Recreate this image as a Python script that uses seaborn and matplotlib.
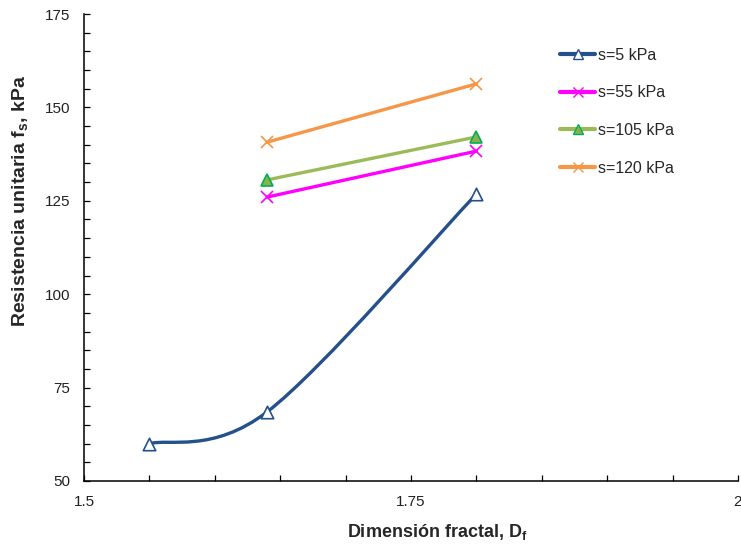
import matplotlib
matplotlib.use("Agg")
import matplotlib.pyplot as plt
import numpy as np
import pandas as pd
import seaborn as sns
from matplotlib.lines import Line2D
from matplotlib.path import Path
from matplotlib.patches import PathPatch

# datos
df_s5 = [1.55, 1.64, 1.80]
fs_s5 = [60.0, 68.5, 126.8]

df_pares = [1.64, 1.80]
fs_s55 = [126.0, 138.3]
fs_s105 = [130.6, 142.1]
fs_s120 = [140.7, 156.3]

etiquetas = ["s=5 kPa", "s=55 kPa", "s=105 kPa", "s=120 kPa"]
colores = ["#24508C", "#FF00FF", "#9BBB59", "#F79646"]

x_ticks = [1.5, 1.75, 2]
x_ticklabels = ["1.5", "1.75", "2"]
y_ticks = [50, 75, 100, 125, 150, 175]


def curva_suave(xs, ys):
    """Path bezier tipo 'linea suavizada' de Excel que pasa por los puntos"""
    p = np.column_stack([xs, ys]).astype(float)
    n = len(p)
    verts = [p[0]]
    codes = [Path.MOVETO]
    for i in range(n - 1):
        p_prev = p[i - 1] if i > 0 else p[i]
        p_next = p[i + 2] if i + 2 < n else p[i + 1]
        c1 = p[i] + (p[i + 1] - p_prev) / 6.0
        c2 = p[i + 1] - (p_next - p[i]) / 6.0
        verts += [c1, c2, p[i + 1]]
        codes += [Path.CURVE4] * 3
    return Path(verts, codes)


sns.set_style("ticks")
plt.rcParams['font.family'] = ['Liberation Sans', 'DejaVu Sans']
plt.rcParams['mathtext.fontset'] = 'custom'
plt.rcParams['mathtext.rm'] = 'Liberation Sans'
plt.rcParams['mathtext.bf'] = 'Liberation Sans:bold'

fig = plt.figure(figsize=(7.41, 5.48), dpi=100)
ax = fig.add_axes([84 / 741, 1 - 481 / 548, 654 / 741, 467 / 548])

lw = 2.4

# s=5 kPa: curva suavizada + marcadores triangulares huecos
ax.add_patch(PathPatch(curva_suave(df_s5, fs_s5), facecolor='none',
                       edgecolor=colores[0], lw=lw, capstyle='round', zorder=2))
sns.scatterplot(x=df_s5, y=fs_s5, ax=ax, marker='^', s=80, color='white',
                edgecolor=colores[0], linewidth=1.2, zorder=3)

datos = pd.DataFrame({
    "D": df_pares * 3,
    "fs": fs_s55 + fs_s105 + fs_s120,
    "serie": [etiquetas[1]] * 2 + [etiquetas[2]] * 2 + [etiquetas[3]] * 2,
})

sns.lineplot(data=datos[datos.serie == etiquetas[1]], x="D", y="fs", ax=ax,
             color=colores[1], lw=lw, marker='x', markersize=8,
             markeredgewidth=1.2, markeredgecolor=colores[1], zorder=2)
sns.lineplot(data=datos[datos.serie == etiquetas[2]], x="D", y="fs", ax=ax,
             color=colores[2], lw=lw, marker='^', markersize=8,
             markerfacecolor='#8DB04E', markeredgecolor='#00B050',
             markeredgewidth=1.2, zorder=2)
sns.lineplot(data=datos[datos.serie == etiquetas[3]], x="D", y="fs", ax=ax,
             color=colores[3], lw=lw, marker='x', markersize=8,
             markeredgewidth=1.2, markeredgecolor=colores[3], zorder=2)

ax.set_xlim(1.5, 2.0)
ax.set_ylim(50, 175)
ax.set_xticks(x_ticks)
ax.set_xticklabels(x_ticklabels)
ax.set_yticks(y_ticks)
ax.set_xticks(np.arange(1.5, 2.0001, 0.05), minor=True)
ax.set_yticks(np.arange(50, 175.001, 5), minor=True)
ax.tick_params(which='both', direction='in', length=4, width=0.9,
               color='black', labelsize=11, labelcolor='#222222', pad=10)

sns.despine(ax=ax)
for side in ['left', 'bottom']:
    ax.spines[side].set_color('black')
    ax.spines[side].set_linewidth(1.1)

ax.set_xlabel(r"Dimensión fractal, D$_\mathbf{f}$", fontsize=13,
              fontweight='bold')
ax.set_ylabel(r"Resistencia unitaria f$_\mathbf{s}$, kPa", fontsize=14,
              fontweight='bold')
ax.xaxis.set_label_coords(0.54, -0.088)
ax.yaxis.set_label_coords(-0.081, 0.60)

handles = [
    Line2D([], [], color=colores[0], lw=3, marker='^', markersize=7,
           markerfacecolor='white', markeredgecolor=colores[0]),
    Line2D([], [], color=colores[1], lw=3, marker='x', markersize=7,
           markeredgecolor=colores[1]),
    Line2D([], [], color=colores[2], lw=3, marker='^', markersize=7,
           markerfacecolor='#8DB04E', markeredgecolor='#00B050'),
    Line2D([], [], color=colores[3], lw=3, marker='x', markersize=7,
           markeredgecolor=colores[3]),
]
ax.legend(handles, etiquetas, loc='upper left', bbox_to_anchor=(0.728, 0.928),
          frameon=False, fontsize=11.5, handlelength=2.2, handletextpad=0.2,
          labelspacing=1.42, borderaxespad=0, borderpad=0)

fig.savefig("out.png", dpi=100)
